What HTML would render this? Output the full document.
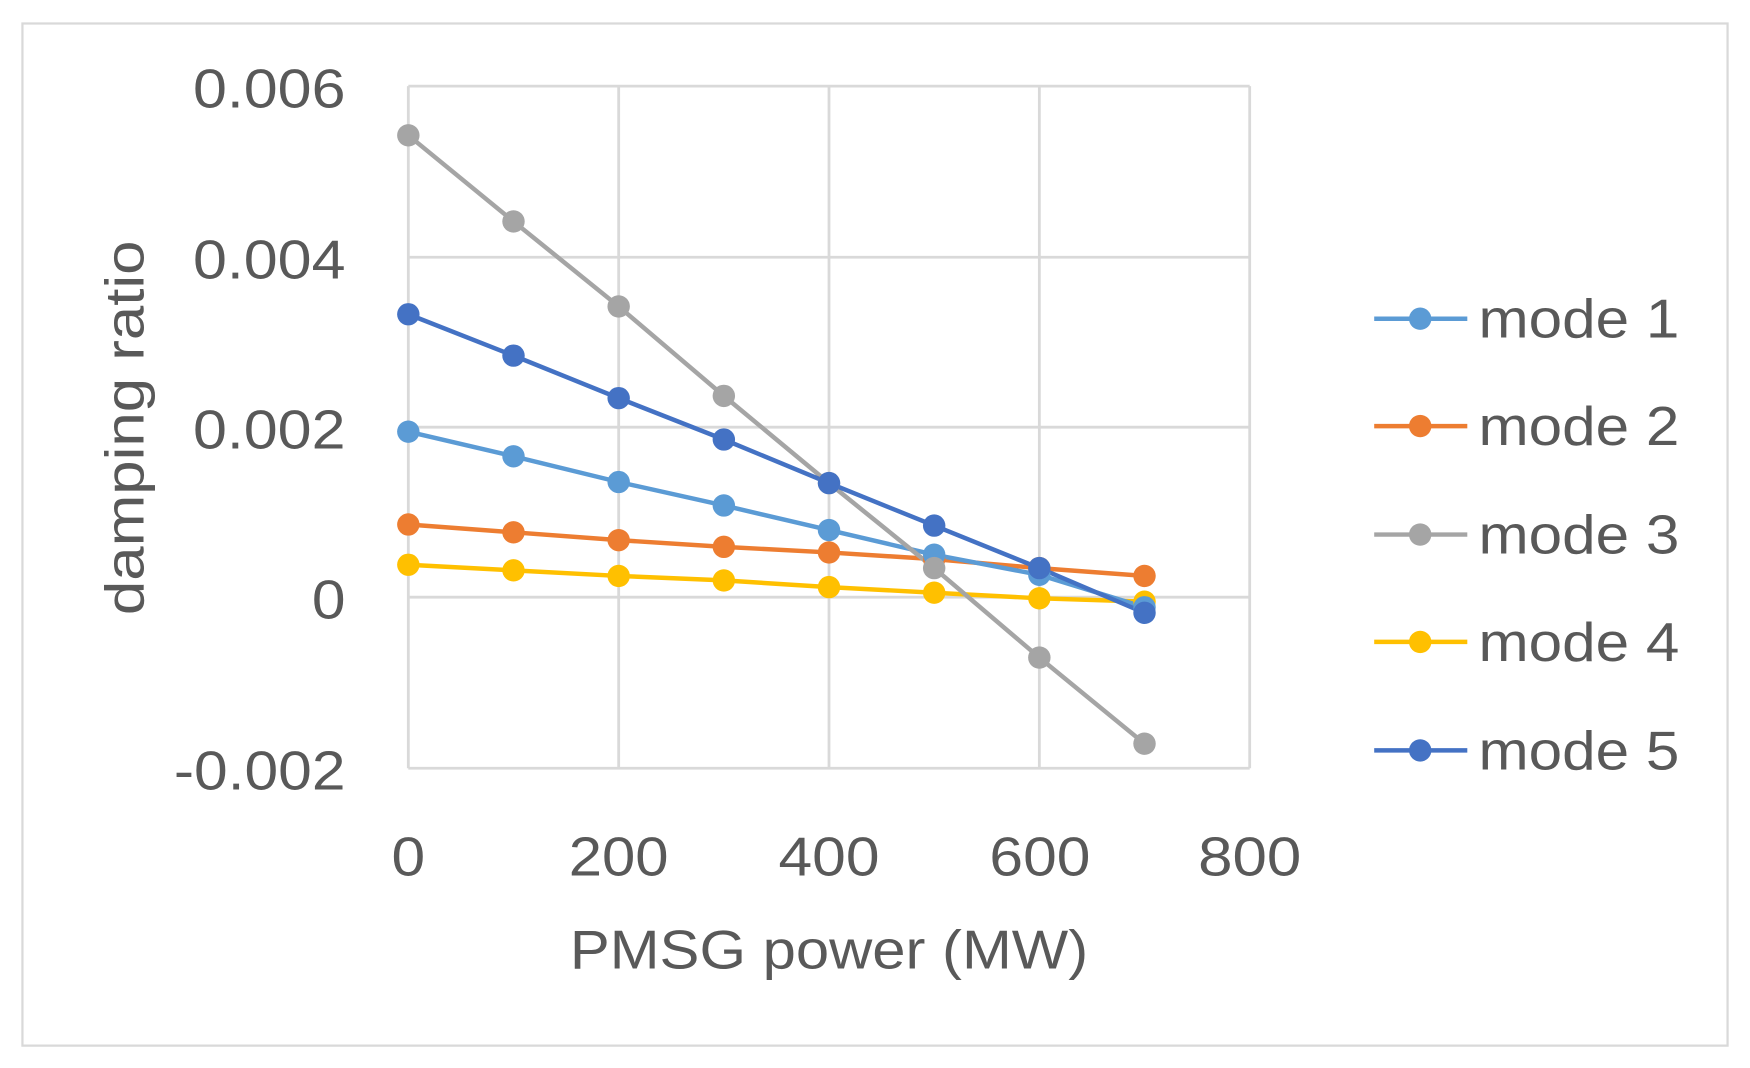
<!DOCTYPE html>
<html><head><meta charset="utf-8"><style>html,body{margin:0;padding:0;background:#fff}svg{display:block}</style></head>
<body>
<svg width="1750" height="1068" viewBox="0 0 1560 955" preserveAspectRatio="none" xmlns="http://www.w3.org/2000/svg" font-family="Liberation Sans, sans-serif">
<rect x="0" y="0" width="1560" height="955" fill="#fff"/>
<rect x="20" y="21" width="1520" height="914" fill="#fff" stroke="#d9d9d9" stroke-width="2"/>
<g stroke="#d9d9d9" stroke-width="2.5" fill="none">
<line x1="364" y1="77" x2="1114" y2="77"/><line x1="364" y1="230" x2="1114" y2="230"/><line x1="364" y1="382" x2="1114" y2="382"/><line x1="364" y1="534" x2="1114" y2="534"/><line x1="364" y1="687" x2="1114" y2="687"/>
<line x1="364" y1="77" x2="364" y2="687"/><line x1="551.5" y1="77" x2="551.5" y2="687"/><line x1="739" y1="77" x2="739" y2="687"/><line x1="926.5" y1="77" x2="926.5" y2="687"/><line x1="1114" y1="77" x2="1114" y2="687"/>
</g>
<g fill="#595959" font-size="49" lengthAdjust="spacingAndGlyphs">
<text x="172" y="96" textLength="136" lengthAdjust="spacingAndGlyphs">0.006</text>
<text x="172" y="249" textLength="136" lengthAdjust="spacingAndGlyphs">0.004</text>
<text x="172" y="401" textLength="136" lengthAdjust="spacingAndGlyphs">0.002</text>
<text x="278" y="553" textLength="30" lengthAdjust="spacingAndGlyphs">0</text>
<text x="155" y="706" textLength="153" lengthAdjust="spacingAndGlyphs">-0.002</text>
<text x="349" y="783" textLength="30" lengthAdjust="spacingAndGlyphs">0</text>
<text x="507" y="783" textLength="89" lengthAdjust="spacingAndGlyphs">200</text>
<text x="694" y="783" textLength="90" lengthAdjust="spacingAndGlyphs">400</text>
<text x="882" y="783" textLength="90" lengthAdjust="spacingAndGlyphs">600</text>
<text x="1068" y="783" textLength="92" lengthAdjust="spacingAndGlyphs">800</text>
<text x="508" y="866" textLength="462" lengthAdjust="spacingAndGlyphs">PMSG power (MW)</text>
<text transform="translate(128,550) rotate(-90)" textLength="335" lengthAdjust="spacingAndGlyphs">damping ratio</text>
</g>
<g stroke-width="4" fill="none">
<polyline stroke="#FFC000" points="364,505 457.75,510 551.5,515 645.25,519 739,525 832.75,530 926.5,535 1020.25,538"/>
<polyline stroke="#ED7D31" points="364,469 457.75,476 551.5,483 645.25,489 739,494 832.75,500 926.5,508 1020.25,515"/>
<polyline stroke="#5B9BD5" points="364,386 457.75,408 551.5,431 645.25,452 739,474 832.75,496 926.5,514 1020.25,543"/>
<polyline stroke="#A5A5A5" points="364,121 457.75,198 551.5,274 645.25,354 739,432 832.75,508 926.5,588 1020.25,665"/>
<polyline stroke="#4472C4" points="364,281 457.75,318 551.5,356 645.25,393 739,432 832.75,470 926.5,508 1020.25,548"/>
</g>
<g fill="#FFC000"><circle cx="364" cy="505" r="10"/><circle cx="457.75" cy="510" r="10"/><circle cx="551.5" cy="515" r="10"/><circle cx="645.25" cy="519" r="10"/><circle cx="739" cy="525" r="10"/><circle cx="832.75" cy="530" r="10"/><circle cx="926.5" cy="535" r="10"/><circle cx="1020.25" cy="538" r="10"/></g>
<g fill="#ED7D31"><circle cx="364" cy="469" r="10"/><circle cx="457.75" cy="476" r="10"/><circle cx="551.5" cy="483" r="10"/><circle cx="645.25" cy="489" r="10"/><circle cx="739" cy="494" r="10"/><circle cx="832.75" cy="500" r="10"/><circle cx="926.5" cy="508" r="10"/><circle cx="1020.25" cy="515" r="10"/></g>
<g fill="#5B9BD5"><circle cx="364" cy="386" r="10"/><circle cx="457.75" cy="408" r="10"/><circle cx="551.5" cy="431" r="10"/><circle cx="645.25" cy="452" r="10"/><circle cx="739" cy="474" r="10"/><circle cx="832.75" cy="496" r="10"/><circle cx="926.5" cy="514" r="10"/><circle cx="1020.25" cy="543" r="10"/></g>
<g fill="#A5A5A5"><circle cx="364" cy="121" r="10"/><circle cx="457.75" cy="198" r="10"/><circle cx="551.5" cy="274" r="10"/><circle cx="645.25" cy="354" r="10"/><circle cx="739" cy="432" r="10"/><circle cx="832.75" cy="508" r="10"/><circle cx="926.5" cy="588" r="10"/><circle cx="1020.25" cy="665" r="10"/></g>
<g fill="#4472C4"><circle cx="364" cy="281" r="10"/><circle cx="457.75" cy="318" r="10"/><circle cx="551.5" cy="356" r="10"/><circle cx="645.25" cy="393" r="10"/><circle cx="739" cy="432" r="10"/><circle cx="832.75" cy="470" r="10"/><circle cx="926.5" cy="508" r="10"/><circle cx="1020.25" cy="548" r="10"/></g>
<g stroke-width="4">
<line x1="1225" y1="285" x2="1308" y2="285" stroke="#5B9BD5"/><circle cx="1266" cy="285" r="10" fill="#5B9BD5"/>
<line x1="1225" y1="381" x2="1308" y2="381" stroke="#ED7D31"/><circle cx="1266" cy="381" r="10" fill="#ED7D31"/>
<line x1="1225" y1="478" x2="1308" y2="478" stroke="#A5A5A5"/><circle cx="1266" cy="478" r="10" fill="#A5A5A5"/>
<line x1="1225" y1="574" x2="1308" y2="574" stroke="#FFC000"/><circle cx="1266" cy="574" r="10" fill="#FFC000"/>
<line x1="1225" y1="671" x2="1308" y2="671" stroke="#4472C4"/><circle cx="1266" cy="671" r="10" fill="#4472C4"/>
</g>
<g fill="#595959" font-size="49">
<text x="1318" y="302" textLength="179" lengthAdjust="spacingAndGlyphs">mode 1</text>
<text x="1318" y="398" textLength="179" lengthAdjust="spacingAndGlyphs">mode 2</text>
<text x="1318" y="495" textLength="179" lengthAdjust="spacingAndGlyphs">mode 3</text>
<text x="1318" y="591" textLength="179" lengthAdjust="spacingAndGlyphs">mode 4</text>
<text x="1318" y="688" textLength="179" lengthAdjust="spacingAndGlyphs">mode 5</text>
</g>
</svg>
</body></html>
